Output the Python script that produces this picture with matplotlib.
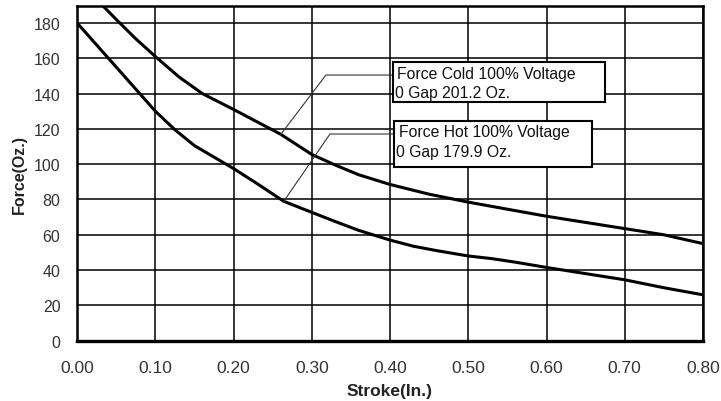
import matplotlib
matplotlib.use("Agg")
import matplotlib.pyplot as plt
from matplotlib.patches import Rectangle

plt.rcParams['font.family'] = ['Liberation Sans', 'DejaVu Sans']

# Data
stroke_cold = [0.02, 0.03, 0.05, 0.075, 0.10, 0.13, 0.16, 0.20, 0.23, 0.26, 0.30, 0.33, 0.36,
               0.40, 0.45, 0.50, 0.55, 0.60, 0.65, 0.70, 0.75, 0.80]
force_cold = [196, 191, 182, 171, 161, 149.5, 140, 131, 124, 117, 105.5, 99.5, 94,
              88.5, 83, 78.5, 74.5, 70.5, 67, 63.5, 60, 55]

stroke_hot = [0.00, 0.03, 0.06, 0.10, 0.125, 0.15, 0.20, 0.23, 0.264, 0.30, 0.33, 0.36, 0.40,
              0.43, 0.46, 0.50, 0.53, 0.56, 0.60, 0.65, 0.70, 0.75, 0.80]
force_hot = [180, 165, 150, 130, 119.5, 110.5, 97.5, 89, 79, 72.7, 67.5, 62.5, 57,
             53.5, 51, 48, 46.5, 44.5, 41.5, 38, 34.5, 30, 26]

x_ticks = [0.0, 0.1, 0.2, 0.3, 0.4, 0.5, 0.6, 0.7, 0.8]
x_ticklabels = ["0.00", "0.10", "0.20", "0.30", "0.40", "0.50", "0.60", "0.70", "0.80"]
y_ticks = [0, 20, 40, 60, 80, 100, 120, 140, 160, 180]

cold_label = ["Force Cold 100% Voltage", "0 Gap 201.2 Oz."]
hot_label = ["Force Hot 100% Voltage", "0 Gap 179.9 Oz."]

fig = plt.figure(figsize=(7.21, 4.02), dpi=100)
ax = fig.add_axes([0.107, 0.150, 0.868, 0.8325])

ax.set_xlim(0, 0.8)
ax.set_ylim(0, 189.6)
ax.set_xticks(x_ticks)
ax.set_xticklabels(x_ticklabels)
ax.set_yticks(y_ticks)
ax.grid(True, color='black', linewidth=1.1)
ax.set_axisbelow(True)
ax.tick_params(axis='x', length=0, colors='#333333', pad=14, labelsize=12.5)
ax.tick_params(axis='y', length=0, colors='#333333', pad=12, labelsize=11.5)
for s in ax.spines.values():
    s.set_linewidth(1.8)
    s.set_color('black')
ax.spines['bottom'].set_linewidth(2.4)

ax.plot(stroke_cold, force_cold, color='black', linewidth=2.2, solid_joinstyle='round')
ax.plot(stroke_hot, force_hot, color='black', linewidth=2.2, solid_joinstyle='round')

ax.set_xlabel("Stroke(In.)", fontsize=12.5, fontweight='bold', color='#222222', labelpad=6)
ax.set_ylabel("Force(Oz.)", fontsize=11.5, fontweight='bold', color='#222222', labelpad=5)

# Leader lines
ax.plot([0.26, 0.318, 0.4037], [116.7, 150.5, 150.5], color='#333333', linewidth=0.8)
ax.plot([0.2634, 0.3232, 0.405], [78.5, 117.1, 117.1], color='#333333', linewidth=0.8)

# Boxes
ax.add_patch(Rectangle((0.4037, 135.4), 0.6747 - 0.4037, 158.1 - 135.4,
                       facecolor='white', edgecolor='black', linewidth=1.5, zorder=5))
ax.add_patch(Rectangle((0.405, 98.2), 0.6577 - 0.405, 124.6 - 98.2,
                       facecolor='white', edgecolor='black', linewidth=1.5, zorder=5))

tkw = dict(fontsize=11.3, color='#111111', va='baseline', ha='left', zorder=6)
ax.text(0.409, 148.7, cold_label[0], **tkw)
ax.text(0.406, 138.2, cold_label[1], **tkw)
ax.text(0.411, 116.1, hot_label[0], **tkw)
ax.text(0.407, 104.8, hot_label[1], **tkw)

fig.savefig("out.png", dpi=100)
